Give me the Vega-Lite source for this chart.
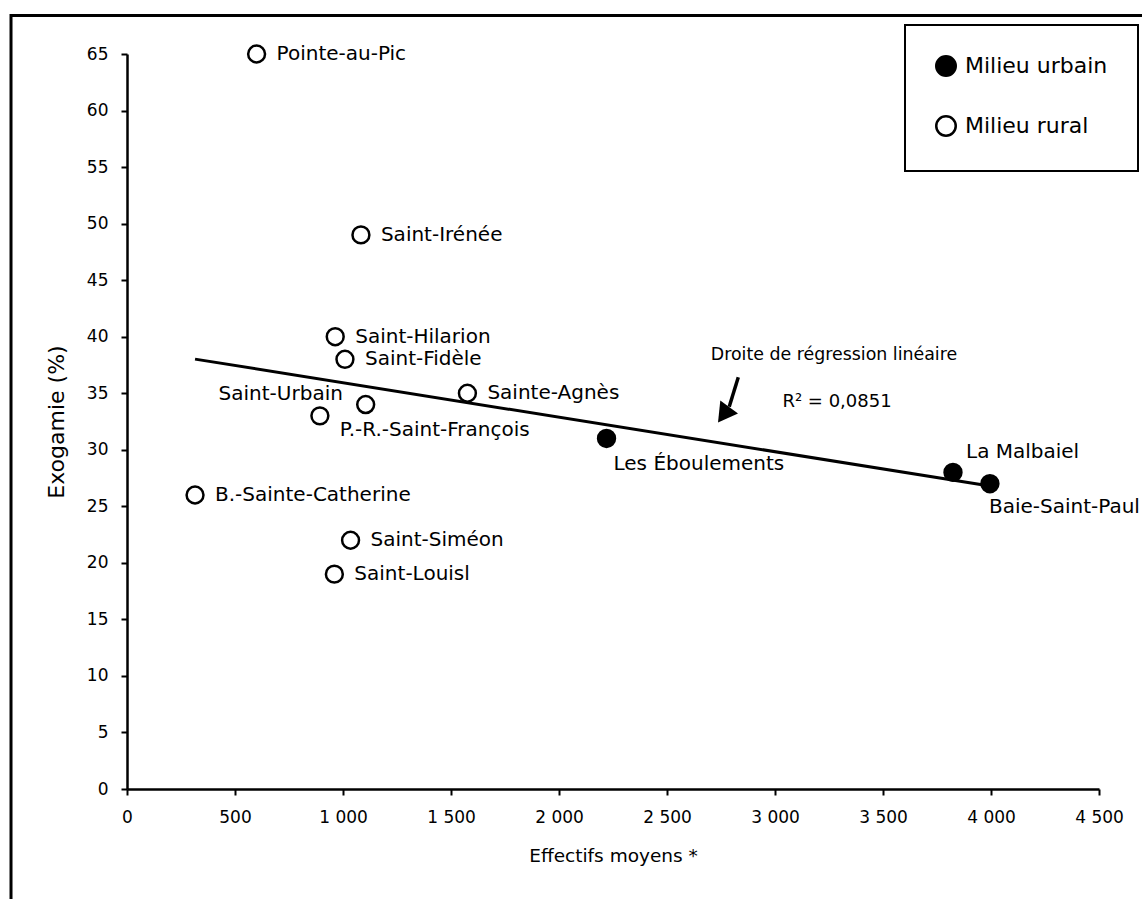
{
  "$schema": "https://vega.github.io/schema/vega-lite/v6.json",
  "width": 972,
  "height": 735,
  "autosize": "none",
  "padding": {"left": 127, "top": 54, "right": 43, "bottom": 110},
  "background": "white",
  "config": {
    "view": {"stroke": null},
    "font": "DejaVu Sans",
    "text": {"font": "DejaVu Sans", "color": "black"},
    "legend": {"strokeWidth": 2}
  },
  "data": {
    "values": [
      {"lieu": "Pointe-au-Pic", "effectifs": 600, "exogamie": 65, "milieu": "Milieu rural"},
      {"lieu": "Saint-Irénée", "effectifs": 1083, "exogamie": 49, "milieu": "Milieu rural"},
      {"lieu": "Saint-Hilarion", "effectifs": 964, "exogamie": 40, "milieu": "Milieu rural"},
      {"lieu": "Saint-Fidèle", "effectifs": 1009, "exogamie": 38, "milieu": "Milieu rural"},
      {"lieu": "Sainte-Agnès", "effectifs": 1576, "exogamie": 35, "milieu": "Milieu rural"},
      {"lieu": "Saint-Urbain", "effectifs": 893, "exogamie": 33, "milieu": "Milieu rural"},
      {"lieu": "P.-R.-Saint-François", "effectifs": 1105, "exogamie": 34, "milieu": "Milieu rural"},
      {"lieu": "Les Éboulements", "effectifs": 2220, "exogamie": 31, "milieu": "Milieu urbain"},
      {"lieu": "La Malbaiel", "effectifs": 3824, "exogamie": 28, "milieu": "Milieu urbain"},
      {"lieu": "Baie-Saint-Paul", "effectifs": 3995, "exogamie": 27, "milieu": "Milieu urbain"},
      {"lieu": "B.-Sainte-Catherine", "effectifs": 315, "exogamie": 26, "milieu": "Milieu rural"},
      {"lieu": "Saint-Siméon", "effectifs": 1035, "exogamie": 22, "milieu": "Milieu rural"},
      {"lieu": "Saint-Louisl", "effectifs": 960, "exogamie": 19, "milieu": "Milieu rural"}
    ]
  },
  "layer": [
    {
      "data": {"values": [{}]},
      "mark": {"type": "rect", "filled": false, "stroke": "black", "strokeWidth": 3},
      "encoding": {
        "x": {"datum": -537, "type": "quantitative"},
        "x2": {"datum": 4760},
        "y": {"datum": 68.4, "type": "quantitative"},
        "y2": {"datum": -12}
      }
    },
    {
      "transform": [{"regression": "exogamie", "on": "effectifs"}],
      "mark": {"type": "line", "color": "black", "strokeWidth": 3},
      "encoding": {
        "x": {"field": "effectifs", "type": "quantitative"},
        "y": {"field": "exogamie", "type": "quantitative"}
      }
    },
    {
      "mark": {"type": "point", "shape": "circle", "filled": true, "stroke": "black", "strokeWidth": 2.5, "size": 285, "opacity": 1},
      "encoding": {
        "x": {
          "field": "effectifs", "type": "quantitative",
          "scale": {"domain": [0, 4500], "nice": false, "zero": false},
          "axis": {
            "title": "Effectifs moyens *",
            "values": [0, 500, 1000, 1500, 2000, 2500, 3000, 3500, 4000, 4500],
            "labelExpr": "replace(format(datum.value, ','), ',', ' ')",
            "grid": false, "labelFlush": false, "labelOverlap": false,
            "labelFontSize": 17, "labelColor": "black", "labelPadding": 14,
            "domainColor": "black", "domainWidth": 2.5,
            "tickColor": "black", "tickWidth": 2, "tickSize": 6,
            "titleFontSize": 18.5, "titleFontWeight": "normal", "titleColor": "black", "titlePadding": 21
          }
        },
        "y": {
          "field": "exogamie", "type": "quantitative",
          "scale": {"domain": [0, 65], "nice": false, "zero": false},
          "axis": {
            "title": "Exogamie (%)",
            "values": [0, 5, 10, 15, 20, 25, 30, 35, 40, 45, 50, 55, 60, 65],
            "grid": false, "labelOverlap": false,
            "labelFontSize": 17, "labelColor": "black", "labelPadding": 13,
            "domainColor": "black", "domainWidth": 2.5,
            "tickColor": "black", "tickWidth": 2, "tickSize": 6,
            "titleFontSize": 22, "titleFontWeight": "normal", "titleColor": "black", "titlePadding": 18
          }
        },
        "fill": {
          "field": "milieu", "type": "nominal",
          "scale": {"domain": ["Milieu urbain", "Milieu rural"], "range": ["black", "white"]},
          "legend": {
            "orient": "none", "legendX": 778, "legendY": -29,
            "title": null, "strokeColor": "black",
            "fillColor": "white", "padding": 30,
            "labelFontSize": 22, "labelColor": "black", "labelOffset": 8, "labelLimit": 300,
            "symbolType": "circle", "symbolSize": 380, "symbolStrokeColor": "black",
            "symbolStrokeWidth": 2.5, "symbolOpacity": 1, "rowPadding": 30
          }
        }
      }
    },
    {
      "transform": [{"filter": {"field": "lieu", "oneOf": ["Pointe-au-Pic", "Saint-Irénée", "Saint-Hilarion", "Saint-Fidèle", "Sainte-Agnès", "B.-Sainte-Catherine", "Saint-Siméon", "Saint-Louisl"]}}],
      "mark": {"type": "text", "align": "left", "baseline": "middle", "dx": 20, "fontSize": 20},
      "encoding": {
        "x": {"field": "effectifs", "type": "quantitative"},
        "y": {"field": "exogamie", "type": "quantitative"},
        "text": {"field": "lieu"}
      }
    },
    {
      "transform": [{"filter": {"field": "lieu", "equal": "Saint-Urbain"}}],
      "mark": {"type": "text", "align": "right", "baseline": "middle", "dx": 23, "dy": -22, "fontSize": 20},
      "encoding": {
        "x": {"field": "effectifs", "type": "quantitative"},
        "y": {"field": "exogamie", "type": "quantitative"},
        "text": {"field": "lieu"}
      }
    },
    {
      "transform": [{"filter": {"field": "lieu", "equal": "P.-R.-Saint-François"}}],
      "mark": {"type": "text", "align": "left", "baseline": "middle", "dx": -26, "dy": 25, "fontSize": 20},
      "encoding": {
        "x": {"field": "effectifs", "type": "quantitative"},
        "y": {"field": "exogamie", "type": "quantitative"},
        "text": {"field": "lieu"}
      }
    },
    {
      "transform": [{"filter": {"field": "lieu", "equal": "Les Éboulements"}}],
      "mark": {"type": "text", "align": "left", "baseline": "middle", "dx": 7, "dy": 26, "fontSize": 20},
      "encoding": {
        "x": {"field": "effectifs", "type": "quantitative"},
        "y": {"field": "exogamie", "type": "quantitative"},
        "text": {"field": "lieu"}
      }
    },
    {
      "transform": [{"filter": {"field": "lieu", "equal": "La Malbaiel"}}],
      "mark": {"type": "text", "align": "left", "baseline": "middle", "dx": 13, "dy": -20, "fontSize": 20},
      "encoding": {
        "x": {"field": "effectifs", "type": "quantitative"},
        "y": {"field": "exogamie", "type": "quantitative"},
        "text": {"field": "lieu"}
      }
    },
    {
      "transform": [{"filter": {"field": "lieu", "equal": "Baie-Saint-Paul"}}],
      "mark": {"type": "text", "align": "left", "baseline": "middle", "dx": -1, "dy": 23, "fontSize": 20},
      "encoding": {
        "x": {"field": "effectifs", "type": "quantitative"},
        "y": {"field": "exogamie", "type": "quantitative"},
        "text": {"field": "lieu"}
      }
    },
    {
      "data": {"values": [{}]},
      "mark": {"type": "text", "text": "Droite de régression linéaire", "align": "center", "baseline": "middle", "fontSize": 17.4},
      "encoding": {
        "x": {"datum": 3273, "type": "quantitative"},
        "y": {"datum": 38.34, "type": "quantitative"}
      }
    },
    {
      "data": {"values": [{}]},
      "mark": {"type": "text", "text": "R² = 0,0851", "align": "center", "baseline": "middle", "fontSize": 18},
      "encoding": {
        "x": {"datum": 3287, "type": "quantitative"},
        "y": {"datum": 34.19, "type": "quantitative"}
      }
    },
    {
      "data": {"values": [{}]},
      "mark": {"type": "rule", "color": "black", "strokeWidth": 3.5},
      "encoding": {
        "x": {"datum": 2830, "type": "quantitative"},
        "y": {"datum": 36.42, "type": "quantitative"},
        "x2": {"datum": 2788},
        "y2": {"datum": 33.8}
      }
    },
    {
      "data": {"values": [{}]},
      "mark": {"type": "point", "shape": "triangle-down", "filled": true, "color": "black", "opacity": 1, "size": 480, "angle": 36},
      "encoding": {
        "x": {"datum": 2762, "type": "quantitative"},
        "y": {"datum": 33.1, "type": "quantitative"}
      }
    }
  ]
}
